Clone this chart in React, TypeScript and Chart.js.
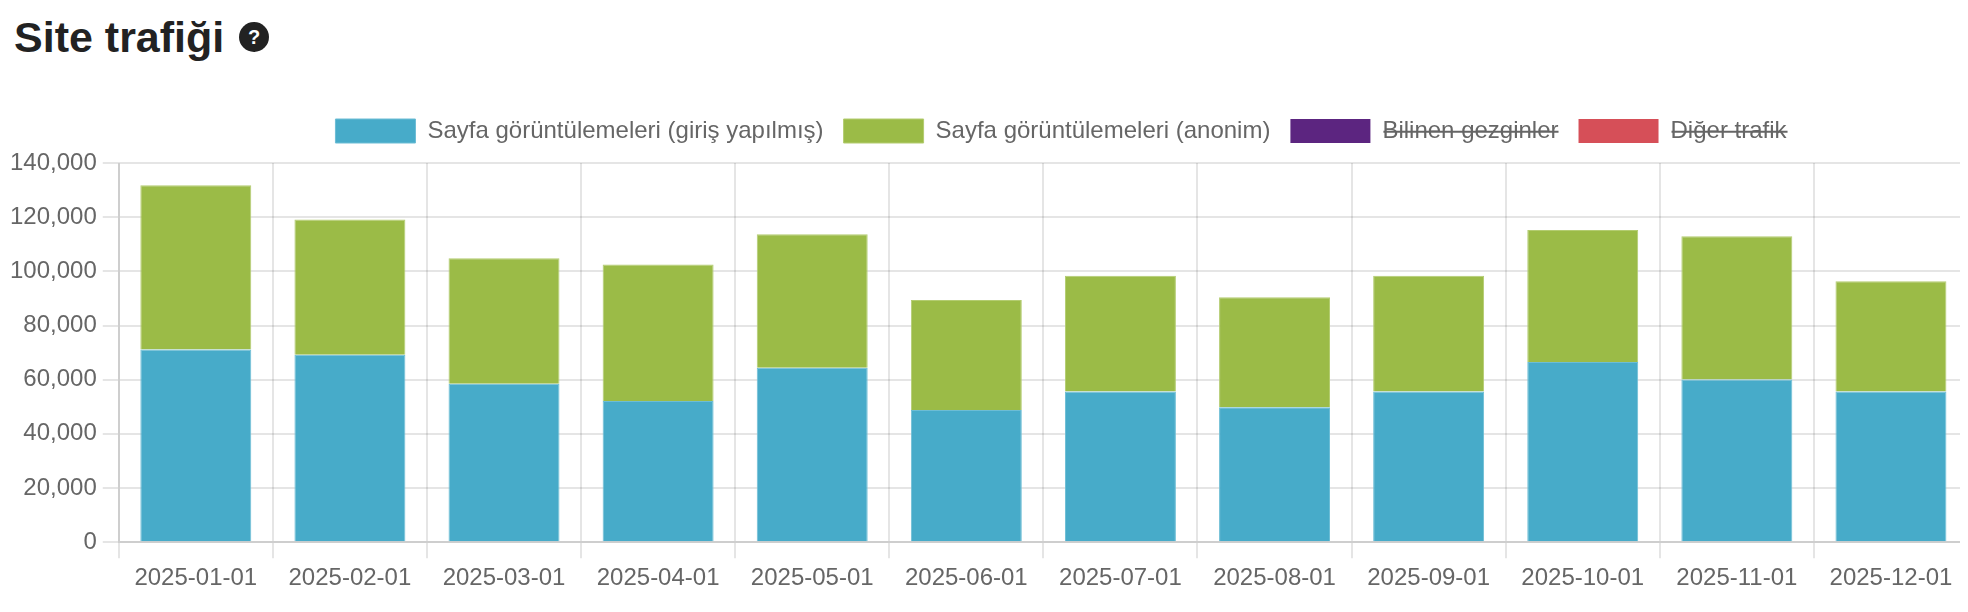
import React, { useEffect, useRef } from 'react';
import { Chart, registerables } from 'chart.js';

Chart.register(...registerables);

// months on the x axis
const months = [
  '2025-01-01', '2025-02-01', '2025-03-01', '2025-04-01', '2025-05-01', '2025-06-01',
  '2025-07-01', '2025-08-01', '2025-09-01', '2025-10-01', '2025-11-01', '2025-12-01',
];

// page views
const loggedIn = [71100, 69200, 58500, 52100, 64400, 48800, 55600, 49800, 55600, 66500, 60100, 55600];
const anonymous = [60700, 49900, 46300, 50400, 49300, 40600, 42800, 40600, 42800, 48800, 52900, 40700];
// hidden in the legend, nothing to read
const crawlers: number[] = [];
const otherTraffic: number[] = [];

const seriesNames = [
  'Sayfa görüntülemeleri (giriş yapılmış)',
  'Sayfa görüntülemeleri (anonim)',
  'Bilinen gezginler',
  'Diğer trafik',
];

const FONT = "'Liberation Sans', Arial, sans-serif";
const LEGEND_CENTER = 1057; // legend sits right of the canvas centre

// nudges the legend: a bit taller and shifted to the right
const legendTweak = {
  id: 'legendTweak',
  beforeLayout(chart: any) {
    const lg = chart.legend;
    if (lg && !lg._tweaked) {
      const fit = lg.fit;
      lg.fit = function () {
        fit.call(this);
        this.height += 10;
      };
      lg._tweaked = true;
    }
  },
  afterLayout(chart: any) {
    const lg = chart.legend;
    if (!lg) return;
    const shift = LEGEND_CENTER - (lg.left + lg.right) / 2;
    lg.left += shift;
    lg.right += shift;
  },
};

const TrafficChart: React.FC = () => {
  const chartRef = useRef<HTMLCanvasElement | null>(null);
  const chartInstance = useRef<Chart | null>(null);

  useEffect(() => {
    if (!chartRef.current) return;
    chartInstance.current = new Chart(chartRef.current, {
      type: 'bar',
      data: {
        labels: months,
        datasets: [
          { label: seriesNames[0], data: loggedIn, backgroundColor: '#47abc9', borderColor: '#6cbdd5', borderWidth: 1 },
          { label: seriesNames[1], data: anonymous, backgroundColor: '#9bbb47', borderColor: '#b3cc70', borderWidth: 1 },
          { label: seriesNames[2], data: crawlers, backgroundColor: '#5c2580', hidden: true },
          { label: seriesNames[3], data: otherTraffic, backgroundColor: '#d64f58', hidden: true },
        ],
      },
      options: {
        animation: false,
        responsive: true,
        maintainAspectRatio: false,
        events: [],
        layout: { padding: 0 },
        plugins: {
          legend: {
            position: 'top',
            labels: {
              boxWidth: 80,
              boxHeight: 24,
              padding: 20,
              color: '#666',
              font: { family: FONT, size: 24 },
            },
          },
          tooltip: { enabled: false },
        },
        scales: {
          x: {
            stacked: true,
            grid: { color: 'rgba(0,0,0,0.1)', lineWidth: 2, tickLength: 16 },
            border: { color: 'rgba(0,0,0,0.1)', width: 2 },
            ticks: { color: '#666', padding: 6, font: { family: FONT, size: 24 }, maxRotation: 0 },
          },
          y: {
            stacked: true,
            min: 0,
            max: 140000,
            grid: { color: 'rgba(0,0,0,0.1)', lineWidth: 2, tickLength: 16 },
            border: { color: 'rgba(0,0,0,0.1)', width: 2 },
            ticks: {
              stepSize: 20000,
              color: '#666',
              padding: 6,
              font: { family: FONT, size: 24 },
              callback: (v: any) => Number(v).toLocaleString('en-US'),
            },
          },
        },
      },
      plugins: [legendTweak],
    });

    return () => {
      if (chartInstance.current) {
        chartInstance.current.destroy();
      }
    };
  }, []);

  return <canvas ref={chartRef}></canvas>;
};

export default function App() {
  return (
    <div style={{ position: 'relative', width: 1968, height: 612, margin: -8, background: '#fff', overflow: 'hidden' }}>
      <div
        style={{
          position: 'absolute', left: 14, top: 16, fontFamily: FONT, fontSize: 43, lineHeight: '43px',
          fontWeight: 'bold', color: '#222', whiteSpace: 'nowrap',
        }}
      >
        Site trafiği
      </div>
      <span
        style={{
          position: 'absolute', left: 239, top: 22, width: 30, height: 30, borderRadius: '50%', background: '#222',
          color: '#fff', fontFamily: FONT, fontWeight: 'bold', fontSize: 20, lineHeight: '30px', textAlign: 'center',
        }}
      >
        ?
      </span>
      <div style={{ position: 'absolute', left: 4, top: 99, width: 1964, height: 500 }}>
        <TrafficChart />
      </div>
    </div>
  );
}
